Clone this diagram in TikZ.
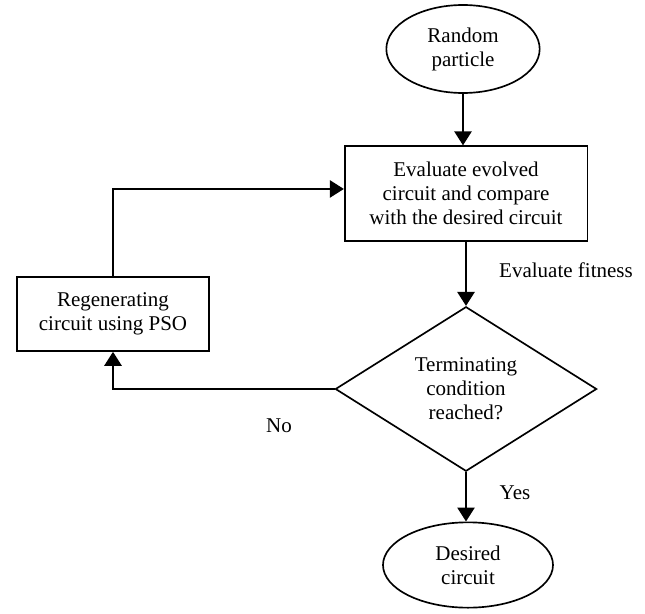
\documentclass[tikz,border=0pt]{standalone}
\usepackage{fontspec}
\setmainfont{Liberation Serif}
\usetikzlibrary{arrows.meta,shapes.geometric}
\begin{document}
\begin{tikzpicture}[x=.75pt,y=-.75pt,line width=1.25pt,
  font=\fontsize{15.75}{18}\selectfont,
  every node/.style={align=center,inner sep=0pt},
  arr/.style={-{Triangle[length=10.5pt,width=13pt]}},
  term/.style={draw,ellipse},
  proc/.style={draw,rectangle},
  decide/.style={draw,diamond}]
  \useasboundingbox (0,0) rectangle (645,613);
  % boxes
  \node[term,minimum width=115pt,minimum height=66pt] (start) at (463,49) {Random\\particle};
  \node[proc,minimum width=182pt,minimum height=71pt] (eval) at (466,193.5) {Evaluate evolved\\circuit and compare\\with the desired circuit};
  \node[decide,minimum width=196pt,minimum height=118.5pt] (dia) at (466,389) {Terminating\\condition\\reached?};
  \node[term,minimum width=127.5pt,minimum height=64pt] (stop) at (468,565) {Desired\\circuit};
  \node[proc,minimum width=144pt,minimum height=55.5pt] (regen) at (113,314) {Regenerating\\circuit using PSO};
  \coordinate (back) at ([yshift=3.4pt]eval.west);
  % connectors
  \draw[arr] (start.south) -- (start.south |- eval.north);
  \draw[arr] (eval.south) -- (dia.north);
  \draw[arr] (dia.south) -- (dia.south |- stop.north);
  \draw[arr] (dia.west) -| (regen.south);
  \draw[arr] (regen.north) |- (back);
  % labels
  \node (fit) at (566,270) {Evaluate fitness};
  \node (yes) at (515,493) {Yes};
  \node (no) at (279,426) {No};
\end{tikzpicture}
\end{document}
